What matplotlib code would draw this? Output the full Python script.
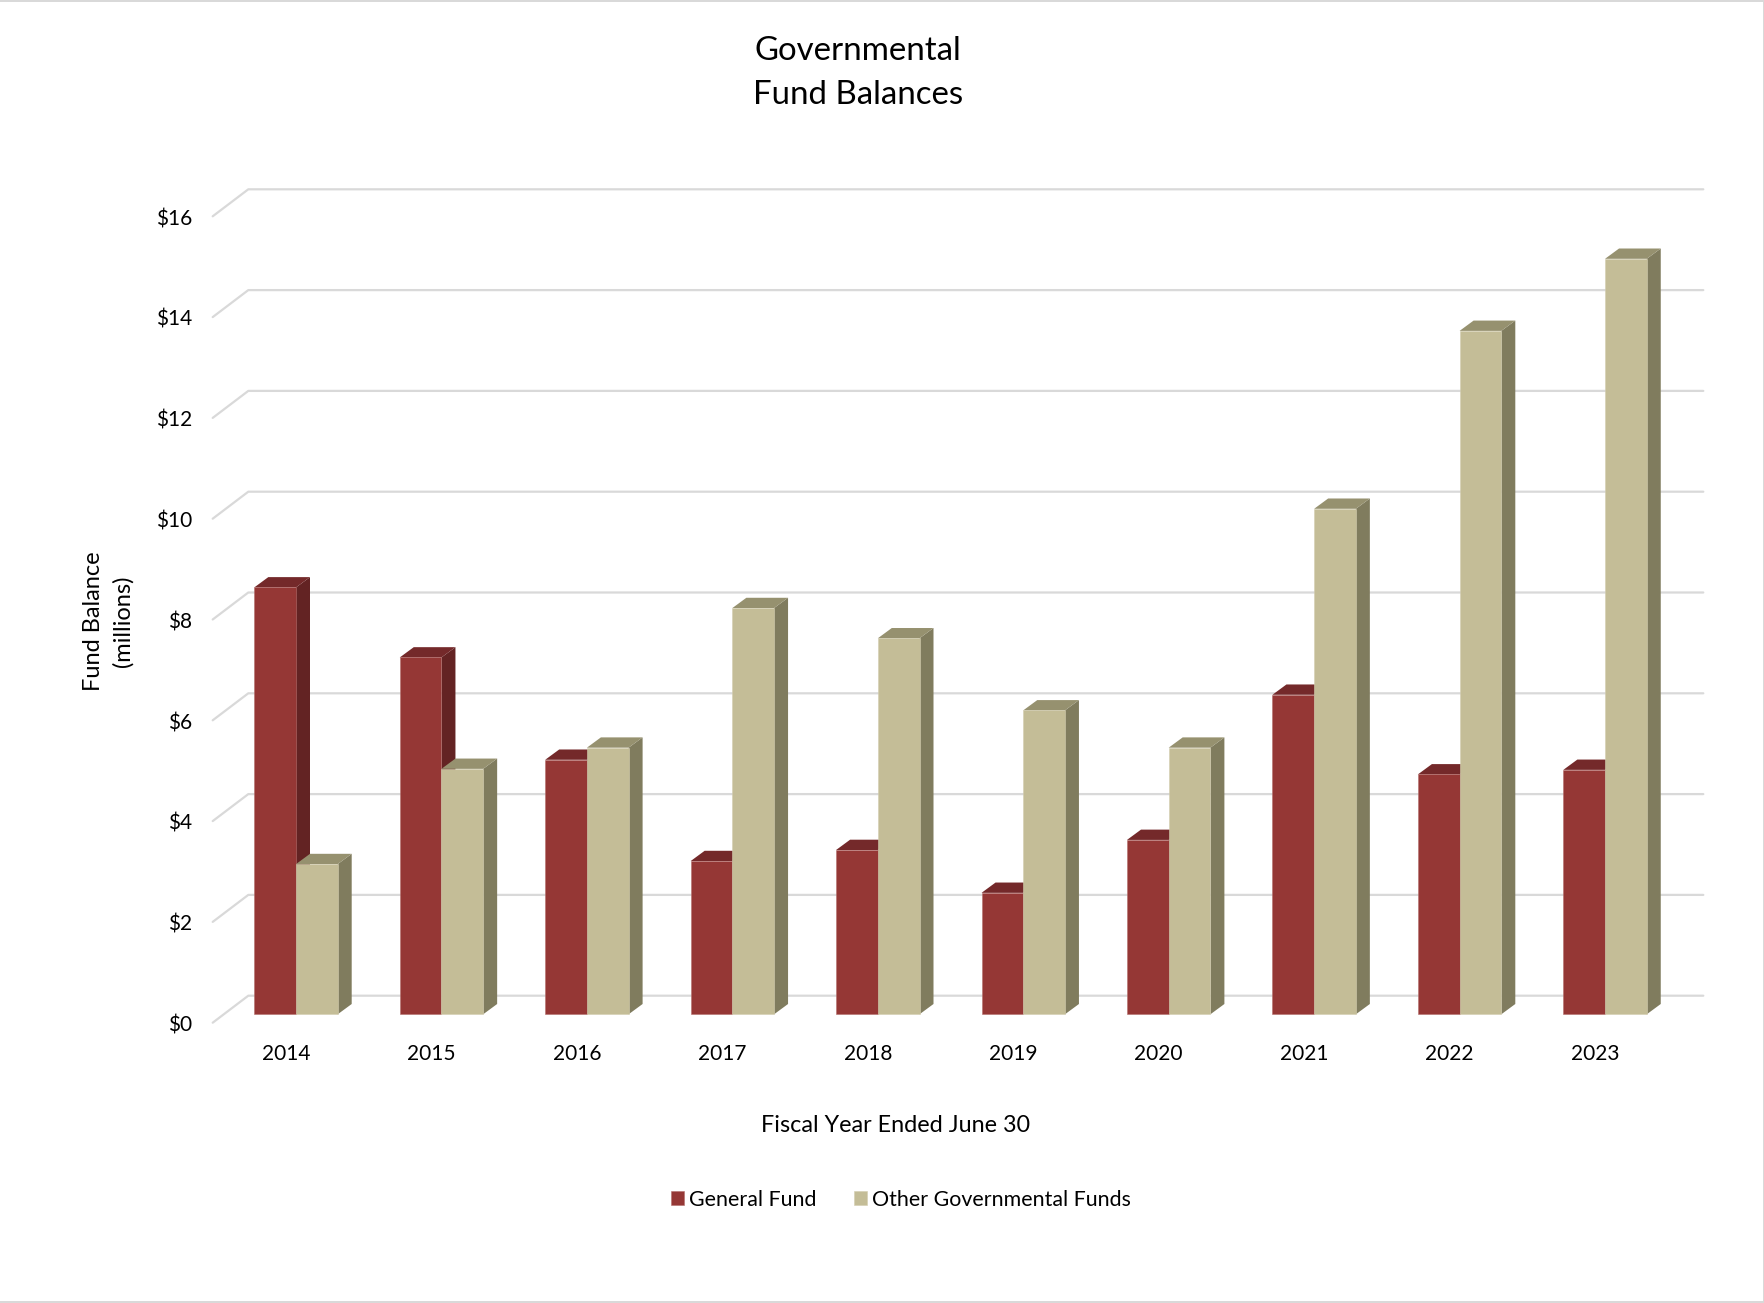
import numpy as np
import matplotlib
matplotlib.use("Agg")
import matplotlib.pyplot as plt
from matplotlib.lines import Line2D

plt.rcParams['font.family'] = ['Lato', 'DejaVu Sans']

years = ['2014', '2015', '2016', '2017', '2018', '2019', '2020', '2021', '2022', '2023']
general_fund = [8.47, 7.08, 5.05, 3.04, 3.26, 2.41, 3.46, 6.34, 4.76, 4.85]
other_funds = [2.98, 4.87, 5.29, 8.06, 7.46, 6.03, 5.29, 10.03, 13.56, 14.99]
y_ticks = [0, 2, 4, 6, 8, 10, 12, 14, 16]

W, H = 1765, 1303
PX_PER_CAT = 145.45
PX_PER_UNIT = 50.4
X0_PX = 296.0   # centre of the first bar pair
Y0_PX = 1014.3  # front baseline of the bars

# fake 3d offsets, in data units
BAR_W = 41.7 / PX_PER_CAT
BAR_DX = 14 / PX_PER_CAT
BAR_DY = 10.3 / PX_PER_UNIT
WALL_X = -47.7 / PX_PER_CAT
WALL_DY = 18.6 / PX_PER_UNIT
TAIL_X = -83.3 / PX_PER_CAT
TICK_SHIFT = -8.4 / PX_PER_UNIT
LABEL_SHIFT_Y = -9.2 / PX_PER_UNIT
GRID_END = 1407.3 / PX_PER_CAT
LABEL_SHIFT = -10.1 / PX_PER_CAT

fig = plt.figure(figsize=(W / 100, H / 100), dpi=100, facecolor='white')
left, right, top, bottom = 200, 1720, 170, 1040
ax = fig.add_axes([left / W, 1 - bottom / H, (right - left) / W, (bottom - top) / H])
for s in ax.spines.values():
    s.set_visible(False)

# back wall gridlines with the slanted piece on the left
for v in y_ticks:
    ax.plot([TAIL_X, WALL_X, GRID_END], [v + TICK_SHIFT, v + WALL_DY, v + WALL_DY],
            color='#d9d9d9', lw=1.6, zorder=1, clip_on=False, solid_capstyle='round')


def draw_bars(x, vals, front, top_c, side, edge, label, z):
    for xi, h in zip(x, vals):
        x0, x1 = xi - BAR_W / 2, xi + BAR_W / 2
        ax.fill([x1, x1 + BAR_DX, x1 + BAR_DX, x1], [0, BAR_DY, h + BAR_DY, h],
                color=side, lw=0, zorder=z)
        ax.fill([x0, x0 + BAR_DX, x1 + BAR_DX, x1], [h, h + BAR_DY, h + BAR_DY, h],
                color=top_c, lw=0, zorder=z)
    return ax.bar(x, vals, BAR_W, color=front, edgecolor=edge, linewidth=0.4,
                  label=label, zorder=z)


pos = np.arange(len(years))
b1 = draw_bars(pos - BAR_W / 2, general_fund, '#953735', '#74292a', '#632323', '#b56f6d',
               'General Fund', 3)
b2 = draw_bars(pos + BAR_W / 2, other_funds, '#c4bd97', '#96916f', '#807c5e', '#d3cdb0',
               'Other Governmental Funds', 4)

ax.set_yticks(np.array(y_ticks) + LABEL_SHIFT_Y)
ax.set_yticklabels([f'${v}' for v in y_ticks])
ax.set_xticks(pos + LABEL_SHIFT)
ax.set_xticklabels(years)
ax.tick_params(axis='y', length=0, pad=5.5, labelsize=15)
ax.tick_params(axis='x', length=0, pad=3, labelsize=15)

# set limits last, set_yticks would widen them otherwise
ax.set_xlim((left - X0_PX) / PX_PER_CAT, (right - X0_PX) / PX_PER_CAT)
ax.set_ylim((Y0_PX - bottom) / PX_PER_UNIT, (Y0_PX - top) / PX_PER_UNIT)

fig.text(857.7 / W, 1 - 73 / H, 'Governmental\nFund Balances', ha='center', va='center',
         fontsize=23.8, linespacing=1.6)
fig.text(896 / W, 1 - 1125 / H, 'Fiscal Year Ended June 30', ha='center', va='center',
         fontsize=16.8)
fig.text(108.5 / W, 1 - 621 / H, 'Fund Balance\n(millions)', ha='center', va='center',
         rotation=90, fontsize=17, linespacing=1.45, multialignment='center')

ax.legend(handles=[b1, b2], loc='center', bbox_to_anchor=(901 / W, 1 - 1199.5 / H),
          bbox_transform=fig.transFigure, ncol=2, frameon=False, fontsize=15.4,
          handlelength=0.61, handleheight=0.61, handletextpad=0.23, columnspacing=1.78,
          borderpad=0, borderaxespad=0)

# grey page border, no line on the left
border = [((0, 1), (1 - 1 / H, 1 - 1 / H), 1.44),
          ((0, 1), (1.5 / H, 1.5 / H), 2.16),
          ((1 - 1 / W, 1 - 1 / W), (0, 1), 1.44)]
for xs, ys, lw in border:
    fig.add_artist(Line2D(xs, ys, color='#d9d9d9', lw=lw, transform=fig.transFigure))

fig.savefig('out.png', dpi=100)
